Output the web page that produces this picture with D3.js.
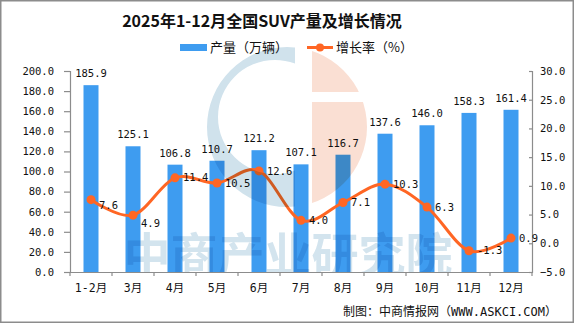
<!DOCTYPE html>
<html>
<head>
<meta charset="utf-8">
<script src="https://cdn.jsdelivr.net/npm/d3@7"></script>
<style>
  body { margin: 0; background: #fff; }
  svg { display: block; }
</style>
</head>
<body>
<div id="chart"></div>
<script>
const months = ['1-2月', '3月', '4月', '5月', '6月', '7月', '8月', '9月', '10月', '11月', '12月'];
const output = [185.9, 125.1, 106.8, 110.7, 121.2, 107.1, 116.7, 137.6, 146.0, 158.3, 161.4];
const growth = [7.6, 4.9, 11.4, 10.5, 12.6, 4.0, 7.1, 10.3, 6.3, -1.3, 0.9];
const leftTicks = [0, 20, 40, 60, 80, 100, 120, 140, 160, 180, 200];
const rightTicks = [-5, 0, 5, 10, 15, 20, 25, 30];

const width = 575;
const height = 326;
const BarBlue = '#3e9cf0';
const LineOrange = '#ff6624';
const AxisGray = '#8c8c8c';
const numFont = "'DejaVu Sans Mono', 'Noto Sans CJK SC', monospace";
const cjkFont = "'Noto Sans CJK SC', sans-serif";

const svg = d3
  .select('#chart')
  .append('svg')
  .attr('width', width)
  .attr('height', height);

// frame
svg
  .append('rect')
  .attr('x', 0.75)
  .attr('y', 0.75)
  .attr('width', 572.5)
  .attr('height', 321.5)
  .attr('fill', '#fff')
  .attr('stroke', AxisGray)
  .attr('stroke-width', 1.5);

// title
svg
  .append('text')
  .attr('x', 262)
  .attr('y', 27)
  .attr('text-anchor', 'middle')
  .style('font-family', cjkFont)
  .style('font-weight', 700)
  .style('font-size', '16px')
  .attr('fill', '#111')
  .text('2025年1-12月全国SUV产量及增长情况');

// legend
const legend = svg.append('g').attr('class', 'legend');
legend
  .append('rect')
  .attr('x', 180)
  .attr('y', 44)
  .attr('width', 27)
  .attr('height', 7)
  .attr('fill', BarBlue);
legend
  .append('text')
  .attr('x', 210)
  .attr('y', 52)
  .style('font-family', cjkFont)
  .style('font-size', '13px')
  .attr('fill', '#111')
  .text('产量（万辆）');
legend
  .append('line')
  .attr('x1', 307)
  .attr('x2', 333)
  .attr('y1', 47.5)
  .attr('y2', 47.5)
  .attr('stroke', LineOrange)
  .attr('stroke-width', 3);
legend
  .append('circle')
  .attr('cx', 320)
  .attr('cy', 47.5)
  .attr('r', 4)
  .attr('fill', LineOrange);
legend
  .append('text')
  .attr('x', 336)
  .attr('y', 52)
  .style('font-family', cjkFont)
  .style('font-size', '13px')
  .attr('fill', '#111')
  .text('增长率（%）');

// scales
const x = d3.scaleBand().domain(months).range([70, 532]);
const yLeft = d3.scaleLinear().domain([0, 200]).range([272, 71]);
const yRight = d3.scaleLinear().domain([-5, 30]).range([272, 71]);

// watermark sits under the marks' labels but blends over bars/line
const defs = svg.append('defs');

// left axis
const leftAxis = svg
  .append('g')
  .attr('transform', 'translate(70,0)')
  .call(
    d3
      .axisLeft(yLeft)
      .tickValues(leftTicks)
      .tickSize(6)
      .tickPadding(10)
      .tickFormat(d3.format('.1f'))
  );

// right axis
const rightAxis = svg
  .append('g')
  .attr('transform', 'translate(532,0)')
  .call(
    d3
      .axisRight(yRight)
      .tickValues(rightTicks)
      .tickSize(-3)
      .tickPadding(8)
      .tickFormat(d3.format('.1f'))
  );

[leftAxis, rightAxis].forEach((g) => {
  g.select('.domain').attr('stroke', AxisGray).attr('stroke-width', 1.2);
  g.selectAll('.tick line').attr('stroke', AxisGray).attr('stroke-width', 1.2);
  g.selectAll('.tick text')
    .attr('fill', '#111')
    .style('font-family', numFont)
    .style('font-size', '10.5px');
});

// bars
svg
  .append('g')
  .attr('class', 'bars')
  .selectAll('rect')
  .data(output)
  .join('rect')
  .attr('x', (d, i) => x(months[i]) + x.bandwidth() / 2 - 7.5)
  .attr('y', (d) => yLeft(d))
  .attr('width', 15)
  .attr('height', (d) => yLeft(0) - yLeft(d))
  .attr('fill', BarBlue);

// bar labels
svg
  .append('g')
  .selectAll('text')
  .data(output)
  .join('text')
  .attr('x', (d, i) => x(months[i]) + x.bandwidth() / 2)
  .attr('y', (d) => yLeft(d) - 8)
  .attr('text-anchor', 'middle')
  .style('font-family', numFont)
  .style('font-size', '10.5px')
  .attr('fill', '#111')
  .text((d) => d.toFixed(1));

// bottom axis
const bottomAxis = svg
  .append('g')
  .attr('transform', 'translate(0,272)')
  .call(d3.axisBottom(x).tickSize(0).tickPadding(12));
bottomAxis.select('.domain').attr('stroke', AxisGray).attr('stroke-width', 1.2);
bottomAxis
  .selectAll('.tick text')
  .attr('fill', '#111')
  .style('font-family', numFont)
  .style('font-size', '11.5px');
// boundary ticks between categories
bottomAxis
  .selectAll('.sep')
  .data(d3.range(months.length + 1))
  .join('line')
  .attr('class', 'sep')
  .attr('x1', (i) => 70 + i * x.step())
  .attr('x2', (i) => 70 + i * x.step())
  .attr('y1', 0)
  .attr('y2', 4)
  .attr('stroke', AxisGray)
  .attr('stroke-width', 1.2);

// growth line
const cx = (i) => x(months[i]) + x.bandwidth() / 2;
const line = d3
  .line()
  .x((d, i) => cx(i))
  .y((d) => yRight(d))
  .curve(d3.curveCardinal.tension(0));

svg
  .append('path')
  .datum(growth)
  .attr('d', line)
  .attr('fill', 'none')
  .attr('stroke', LineOrange)
  .attr('stroke-width', 3);

svg
  .append('g')
  .selectAll('circle')
  .data(growth)
  .join('circle')
  .attr('cx', (d, i) => cx(i))
  .attr('cy', (d) => yRight(d))
  .attr('r', 4.5)
  .attr('fill', LineOrange);

// first two labels sit a bit lower so they clear the curve
const labelDrop = [6, 8];
svg
  .append('g')
  .selectAll('text')
  .data(growth)
  .join('text')
  .attr('x', (d, i) => cx(i) + 8)
  .attr('y', (d, i) => yRight(d) + (labelDrop[i] || 0))
  .attr('dy', '0.35em')
  .style('font-family', numFont)
  .style('font-size', '10.5px')
  .attr('fill', '#111')
  .text((d) => d.toFixed(1));

// watermark, laid over the plot
const mark = svg
  .append('g')
  .attr('class', 'watermark')
  .style('mix-blend-mode', 'multiply')
  .style('pointer-events', 'none');

defs
  .append('clipPath')
  .attr('id', 'clipLeft')
  .append('rect')
  .attr('x', 190)
  .attr('y', 40)
  .attr('width', 105)
  .attr('height', 180);
const clipRight = defs.append('clipPath').attr('id', 'clipRight');
clipRight
  .append('rect')
  .attr('x', 312)
  .attr('y', 40)
  .attr('width', 70)
  .attr('height', 52);
clipRight
  .append('rect')
  .attr('x', 312)
  .attr('y', 102)
  .attr('width', 70)
  .attr('height', 110);
defs
  .append('clipPath')
  .attr('id', 'clipPlot')
  .append('rect')
  .attr('x', 70)
  .attr('y', 60)
  .attr('width', 462)
  .attr('height', 212);

const ring = d3.path();
ring.arc(287, 127, 80, 0, 2 * Math.PI);
ring.closePath();
ring.moveTo(275 + 57, 117);
ring.arc(275, 117, 57, 0, 2 * Math.PI);
ring.closePath();

mark
  .append('path')
  .attr('d', ring.toString())
  .attr('fill-rule', 'evenodd')
  .attr('fill', '#d0e2ec')
  .attr('clip-path', 'url(#clipLeft)');

mark
  .append('circle')
  .attr('cx', 287)
  .attr('cy', 127)
  .attr('r', 80)
  .attr('fill', '#fadfd3')
  .attr('clip-path', 'url(#clipRight)');

mark
  .append('g')
  .attr('clip-path', 'url(#clipPlot)')
  .append('text')
  .attr('x', 288)
  .attr('y', 272)
  .attr('text-anchor', 'middle')
  .style('font-family', cjkFont)
  .style('font-weight', 700)
  .style('font-size', '47px')
  .attr('fill', '#d3e4ee')
  .text('中商产业研究院');

// source
svg
  .append('text')
  .attr('x', 557)
  .attr('y', 316)
  .attr('text-anchor', 'end')
  .style('font-family', numFont)
  .style('font-size', '12px')
  .attr('fill', '#111')
  .text('制图：中商情报网（WWW.ASKCI.COM）');
</script>
</body>
</html>
